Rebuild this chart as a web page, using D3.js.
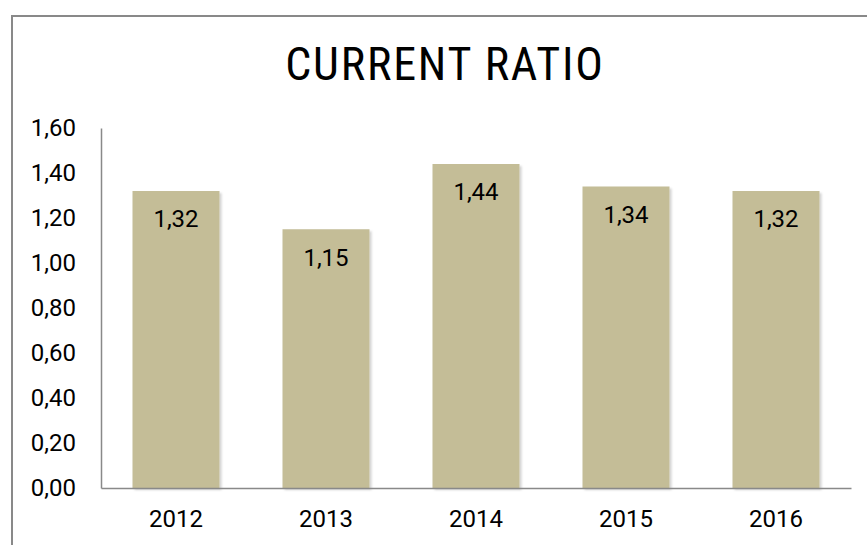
<!DOCTYPE html>
<html>
<head>
<meta charset="utf-8">
<script src="https://cdn.jsdelivr.net/npm/d3@7/dist/d3.min.js"></script>
<style>
  html, body { margin: 0; padding: 0; background: #fff; }
  svg { display: block; }
  .narrow { font-family: "Liberation Sans Narrow", "Roboto Condensed", "Arial Narrow", "DejaVu Sans Condensed", sans-serif; }
  .num { font-family: Roboto, "Noto Sans", sans-serif; }
</style>
</head>
<body>
<svg id="chart" width="867" height="545"></svg>
<script>
// Current ratio per year
const years = ["2012", "2013", "2014", "2015", "2016"];
const ratios = [1.32, 1.15, 1.44, 1.34, 1.32];
const yTicks = [0, 0.2, 0.4, 0.6, 0.8, 1.0, 1.2, 1.4, 1.6];
const chartTitle = "CURRENT RATIO";

const svg = d3.select("#chart");
const W = 867, H = 545;
const plot = { left: 101, right: 851, top: 128, bottom: 488 };
const fmt = v => d3.format(".2f")(v).replace(".", ",");

// outer frame (runs past the right and bottom edges)
svg.append("rect")
  .attr("x", 12).attr("y", 16)
  .attr("width", W).attr("height", H)
  .attr("fill", "#fff")
  .attr("stroke", "#898989").attr("stroke-width", 2);

const defs = svg.append("defs");
const f = defs.append("filter").attr("id", "shadow")
  .attr("x", "-10%").attr("y", "-10%").attr("width", "130%").attr("height", "130%");
f.append("feDropShadow").attr("dx", 2).attr("dy", 2).attr("stdDeviation", 1.2)
  .attr("flood-color", "#000").attr("flood-opacity", 0.18);

const x = d3.scaleBand().domain(years).range([plot.left, plot.right])
  .paddingInner(0.42).paddingOuter(0.21);
const y = d3.scaleLinear().domain([0, 1.6]).range([plot.bottom, plot.top]);

// title
svg.append("text").attr("class", "narrow")
  .attr("x", 445).attr("y", 80)
  .attr("text-anchor", "middle")
  .attr("font-size", 46)
  .attr("letter-spacing", 1.8)
  .attr("fill", "#000")
  .text(chartTitle);

// bars
svg.append("g").selectAll("rect").data(ratios).join("rect")
  .attr("x", (d, i) => x(years[i]))
  .attr("y", d => y(d))
  .attr("width", x.bandwidth())
  .attr("height", d => y(0) - y(d))
  .attr("fill", "#c4bd97")
  .attr("filter", "url(#shadow)");

// value labels inside bars
svg.append("g").selectAll("text").data(ratios).join("text")
  .attr("class", "num")
  .attr("x", (d, i) => x(years[i]) + x.bandwidth() / 2)
  .attr("y", d => y(d) + 28)
  .attr("dy", "0.35em")
  .attr("text-anchor", "middle")
  .attr("font-size", 24)
  .attr("fill", "#000")
  .text(d => fmt(d));

// y axis
const yAxis = d3.axisLeft(y).tickValues(yTicks).tickSize(0).tickPadding(25).tickFormat(fmt);
const gy = svg.append("g").attr("transform", `translate(${plot.left},0)`).call(yAxis);
gy.select(".domain").attr("stroke", "#898989").attr("stroke-width", 1.5);
gy.selectAll("text").attr("class", "num").attr("font-size", 24).attr("fill", "#000");

// x axis
const xAxis = d3.axisBottom(x).tickSize(0).tickPadding(22);
const gx = svg.append("g").attr("transform", `translate(0,${plot.bottom})`).call(xAxis);
gx.select(".domain").attr("stroke", "#898989").attr("stroke-width", 1.5);
gx.selectAll("text").attr("class", "num").attr("font-size", 24).attr("fill", "#000");
</script>
</body>
</html>
